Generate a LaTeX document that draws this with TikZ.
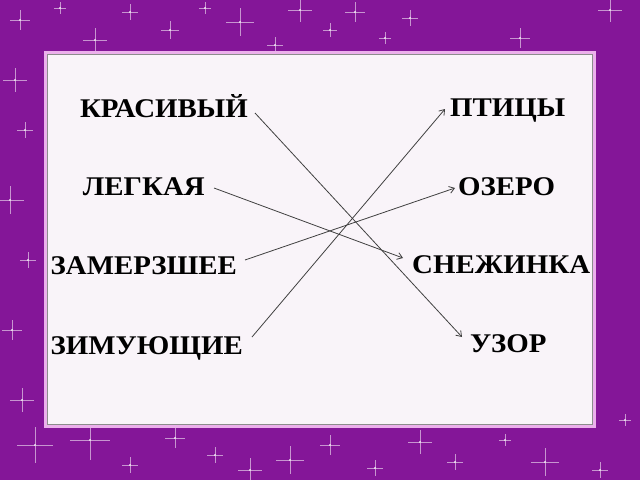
\documentclass[tikz,border=0pt]{standalone}
\usepackage{fontspec}
\setmainfont{Liberation Serif}[FakeStretch=1.07]
\usetikzlibrary{arrows.meta}
\definecolor{slide}{RGB}{132,22,152}
\definecolor{paper}{RGB}{249,244,249}
\definecolor{rim}{RGB}{236,176,236}
\begin{document}
\begin{tikzpicture}[x=1pt,y=-1pt,>={Straight Barb[length=5pt,width=7pt]}]
\tikzstyle{word}=[font=\bfseries\fontsize{27}{27}\selectfont,inner sep=3pt,text height=17.8pt,text depth=0pt]
\tikzstyle{link}=[->,draw=black!75,line width=0.8pt]
\tikzstyle{spark}=[white,opacity=0.55,line width=0.6pt]

% background and sparkles
\clip (0,0) rectangle (640,480);
\fill[slide] (0,0) rectangle (640,480);
\foreach \x/\y/\s in {20/20/10,60/8/6,95/40/12,130/12/8,170/30/9,205/8/6,240/22/14,275/45/8,300/10/12,
  330/30/7,355/12/10,385/38/6,410/18/8,520/38/10,610/10/12,15/80/12,25/130/8,10/200/14,28/260/8,
  12/330/10,22/400/12,35/445/18,90/440/20,130/465/8,175/438/10,215/455/8,250/470/12,290/460/14,
  330/445/10,375/468/8,420/442/12,455/462/8,505/440/6,545/462/14,600/470/8,625/420/6}
{
  \draw[spark] (\x-\s,\y) -- (\x+\s,\y) (\x,\y-\s) -- (\x,\y+\s);
  \fill[white,opacity=0.8] (\x,\y) circle (1.2);
}

% the card
\draw[rim,line width=3pt,fill=paper] (45,52) rectangle (594,426);
\draw[black!45,line width=0.8pt] (47,54) rectangle (592,424);

% words
\node[word,anchor=east] (krasivy) at (251,109) {КРАСИВЫЙ};
\node[word,anchor=east] (legkaya) at (208,187) {ЛЕГКАЯ};
\node[word,anchor=east] (zamerz) at (240,266) {ЗАМЕРЗШЕЕ};
\node[word,anchor=east] (zimuyu) at (246,346) {ЗИМУЮЩИЕ};
\node[word,anchor=west] (ptitsy) at (447,108) {ПТИЦЫ};
\node[word,anchor=west] (ozero) at (455,187) {ОЗЕРО};
\node[word,anchor=west] (snezh) at (409,265) {СНЕЖИНКА};
\node[word,anchor=west] (uzor) at (467,344) {УЗОР};

% links
\draw[link] ([shift={(4,4)}]krasivy.east) -- ([shift={(-5,-7)}]uzor.west);
\draw[link] ([shift={(6,1)}]legkaya.east) -- ([shift={(-6,-7)}]snezh.west);
\draw[link] ([shift={(5,-6)}]zamerz.east) -- ([shift={(0,1)}]ozero.west);
\draw[link] ([shift={(6,-9)}]zimuyu.east) -- ([shift={(-2,1)}]ptitsy.west);
\end{tikzpicture}
\end{document}
